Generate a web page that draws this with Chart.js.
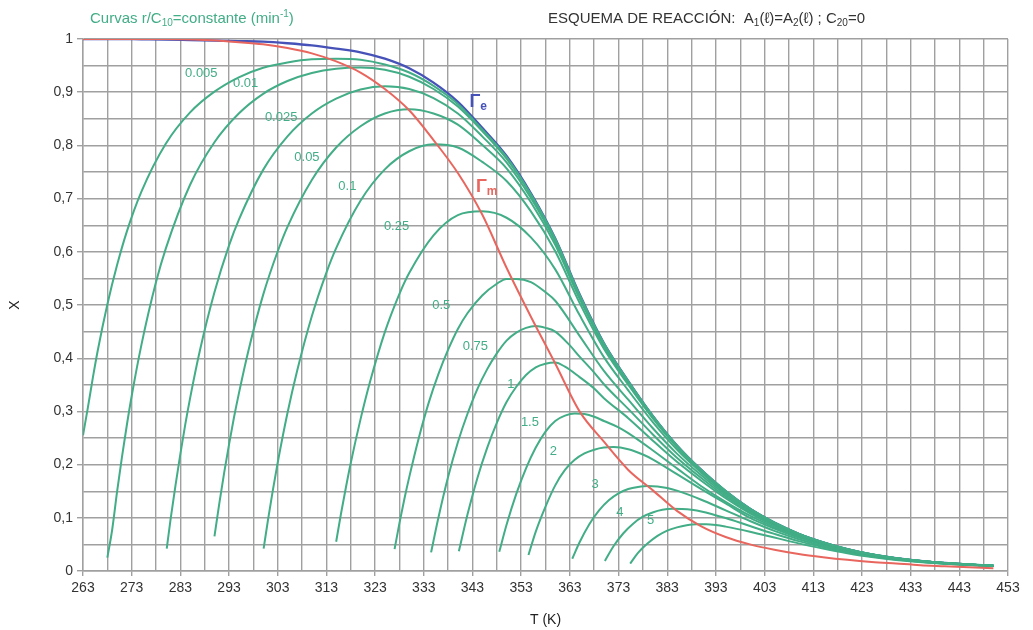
<!DOCTYPE html>
<html>
<head>
<meta charset="utf-8">
<script src="https://cdn.jsdelivr.net/npm/chart.js@4.4.1/dist/chart.umd.min.js"></script>
<style>
  html, body { margin: 0; background: #fff; }
  #wrap { width: 1033px; height: 630px; }
</style>
</head>
<body>
<div id="wrap"><canvas id="chart" width="1033" height="630"></canvas></div>
<script>
// tick labels
const tempLabels = [263, 273, 283, 293, 303, 313, 323, 333, 343, 353, 363, 373, 383, 393, 403, 413, 423, 433, 443, 453];
const convLabels = ['0', '0,1', '0,2', '0,3', '0,4', '0,5', '0,6', '0,7', '0,8', '0,9', '1'];

// equilibrium curve (Γe)
const eqT = [263, 270, 275, 280, 285, 290, 295, 300, 305, 310, 315, 320, 325, 330, 335, 340, 345, 350, 355, 360, 365, 370, 375, 380, 385, 390, 395, 400, 405, 410, 415, 420, 425, 430, 435, 440, 445, 450];
const eqX = [1.000, 1.000, 0.9995, 0.999, 0.998, 0.997, 0.996, 0.995, 0.992, 0.988, 0.982, 0.975, 0.963, 0.945, 0.918, 0.882, 0.833, 0.780, 0.710, 0.625, 0.520, 0.428, 0.357, 0.292, 0.236, 0.190, 0.150, 0.117, 0.091, 0.070, 0.054, 0.041, 0.031, 0.024, 0.019, 0.015, 0.012, 0.010];

// locus of maximum rate (Γm)
const maxT = [263, 280, 288, 295, 300, 305, 310, 315, 320, 325, 330, 335, 340, 345, 350, 355, 360, 365, 370, 375, 380, 385, 390, 395, 400, 405, 410, 415, 420, 425, 430, 435, 440, 445, 450];
const maxX = [1.0, 1.0, 0.998, 0.994, 0.99, 0.983, 0.973, 0.958, 0.937, 0.906, 0.866, 0.81, 0.748, 0.67, 0.57, 0.478, 0.39, 0.3, 0.243, 0.19, 0.152, 0.113, 0.084, 0.064, 0.05, 0.04, 0.032, 0.026, 0.021, 0.017, 0.014, 0.011, 0.009, 0.007, 0.005];

// r/C10 = constant curves
const r0005T = [263, 264, 265, 266, 268, 270, 272, 275, 280, 285, 290, 295, 300, 305, 310, 315, 320, 325, 330, 335, 340, 345, 350, 355, 360, 365, 370, 375, 380, 385, 390, 395, 400, 405, 410, 415, 420, 425, 430, 435, 440, 445, 450];
const r0005X = [0.255, 0.307, 0.362, 0.413, 0.501, 0.575, 0.638, 0.713, 0.803, 0.862, 0.901, 0.928, 0.946, 0.956, 0.962, 0.963, 0.961, 0.952, 0.937, 0.912, 0.878, 0.830, 0.778, 0.708, 0.624, 0.519, 0.4275, 0.3566, 0.2918, 0.2358, 0.1899, 0.1499, 0.1169, 0.0909, 0.0699, 0.0539, 0.0409, 0.0309, 0.0239, 0.0189, 0.0149, 0.0119, 0.0099];

const r001T = [268, 269, 270, 271, 272, 273, 275, 278, 280, 285, 290, 295, 300, 305, 310, 315, 320, 325, 330, 335, 340, 345, 350, 355, 360, 365, 370, 375, 380, 385, 390, 400, 410, 420, 430, 440, 450];
const r001X = [0.025, 0.078, 0.149, 0.214, 0.274, 0.329, 0.425, 0.543, 0.606, 0.726, 0.806, 0.860, 0.897, 0.921, 0.936, 0.944, 0.9465, 0.942, 0.929, 0.906, 0.873, 0.827, 0.775, 0.707, 0.623, 0.518, 0.427, 0.356, 0.2915, 0.2357, 0.1898, 0.1169, 0.0699, 0.041, 0.024, 0.015, 0.01];

const r0025T = [280.2, 281, 282, 283, 284, 285, 287, 290, 293, 295, 300, 305, 310, 315, 320, 325, 330, 335, 340, 345, 350, 355, 360, 365, 370, 375, 380, 385, 390, 395, 400, 410, 420, 430, 440, 450];
const r0025X = [0.042, 0.098, 0.161, 0.22, 0.275, 0.325, 0.414, 0.524, 0.612, 0.66, 0.754, 0.817, 0.86, 0.888, 0.905, 0.911, 0.906, 0.889, 0.86, 0.817, 0.768, 0.701, 0.619, 0.516, 0.425, 0.355, 0.291, 0.235, 0.189, 0.1496, 0.1168, 0.0698, 0.0409, 0.0239, 0.0149, 0.0099];

const r005T = [290, 291, 292, 293, 294, 295, 297, 300, 303, 305, 310, 315, 320, 325, 330, 335, 340, 345, 350, 355, 360, 365, 370, 375, 380, 385, 390, 395, 400, 410, 420, 430, 440, 450];
const r005X = [0.065, 0.127, 0.185, 0.238, 0.288, 0.333, 0.415, 0.519, 0.601, 0.647, 0.735, 0.796, 0.836, 0.860, 0.868, 0.860, 0.839, 0.801, 0.757, 0.693, 0.613, 0.512, 0.423, 0.3535, 0.2897, 0.2344, 0.189, 0.1493, 0.1166, 0.0698, 0.0409, 0.0239, 0.0149, 0.0099];

const r01T = [300.1, 301, 302, 303, 305, 307, 310, 313, 315, 320, 325, 330, 335, 340, 345, 350, 355, 360, 365, 370, 375, 380, 385, 390, 395, 400, 405, 410, 415, 420, 430, 440, 450];
const r01X = [0.042, 0.096, 0.152, 0.204, 0.297, 0.377, 0.479, 0.561, 0.607, 0.696, 0.755, 0.789, 0.802, 0.796, 0.769, 0.733, 0.676, 0.601, 0.504, 0.4176, 0.35, 0.2873, 0.2329, 0.1879, 0.1487, 0.1161, 0.0904, 0.0696, 0.0538, 0.0409, 0.0238, 0.0149, 0.0099];

const r025T = [315, 316, 317, 318, 320, 322, 325, 328, 330, 335, 340, 345, 350, 355, 360, 365, 370, 375, 380, 385, 390, 395, 400, 405, 410, 415, 420, 425, 430, 440, 450];
const r025X = [0.055, 0.108, 0.157, 0.203, 0.285, 0.357, 0.449, 0.521, 0.560, 0.631, 0.669, 0.676, 0.664, 0.627, 0.567, 0.481, 0.402, 0.3395, 0.2804, 0.2283, 0.1849, 0.1467, 0.1148, 0.0896, 0.0691, 0.0534, 0.0406, 0.0308, 0.0238, 0.0149, 0.00996];

const r05T = [327, 328, 329, 330, 332, 334, 336, 338, 340, 342, 345, 348, 350, 352, 355, 358, 360, 365, 370, 375, 380, 385, 390, 395, 400, 405, 410, 415, 420, 425, 430, 440, 450];
const r05X = [0.041, 0.09, 0.135, 0.176, 0.251, 0.316, 0.37, 0.416, 0.455, 0.485, 0.518, 0.540, 0.549, 0.549, 0.543, 0.524, 0.508, 0.442, 0.376, 0.322, 0.2688, 0.2206, 0.1798, 0.1433, 0.1127, 0.0882, 0.0682, 0.0528, 0.0402, 0.0305, 0.0237, 0.0149, 0.0099];

const r075T = [334.5, 336, 338, 340, 342, 344, 346, 348, 350, 352, 354, 356, 358, 360, 363, 365, 368, 370, 375, 380, 385, 390, 395, 400, 405, 410, 415, 420, 425, 430, 440, 450];
const r075X = [0.035, 0.1, 0.177, 0.242, 0.296, 0.342, 0.379, 0.409, 0.433, 0.448, 0.457, 0.4605, 0.457, 0.45, 0.424, 0.403, 0.373, 0.351, 0.3047, 0.2572, 0.2129, 0.1747, 0.14, 0.1105, 0.0868, 0.0673, 0.0522, 0.0399, 0.0303, 0.0235, 0.0148, 0.0099];

const r1T = [340.2, 342, 344, 346, 348, 350, 352, 354, 356, 358, 360, 362, 365, 368, 370, 375, 380, 385, 390, 395, 400, 405, 410, 415, 420, 425, 430, 440, 450];
const r1X = [0.037, 0.107, 0.1745, 0.231, 0.2785, 0.3177, 0.3463, 0.3684, 0.3829, 0.3897, 0.3918, 0.384, 0.3645, 0.3429, 0.3249, 0.2873, 0.2455, 0.2052, 0.1696, 0.1367, 0.1084, 0.0854, 0.0664, 0.0516, 0.0395, 0.03, 0.0234, 0.0147, 0.00985];

const r15T = [348.5, 350, 352, 354, 356, 358, 360, 362, 364, 366, 368, 370, 373, 375, 380, 385, 390, 395, 400, 405, 410, 415, 420, 425, 430, 440, 450];
const r15X = [0.036, 0.087, 0.145, 0.193, 0.232, 0.262, 0.282, 0.292, 0.296, 0.295, 0.29, 0.282, 0.27, 0.259, 0.227, 0.193, 0.1594, 0.130, 0.104, 0.0826, 0.0646, 0.0505, 0.0387, 0.0295, 0.023, 0.0146, 0.0098];

const r2T = [354.5, 356, 358, 360, 362, 364, 366, 368, 370, 372, 375, 378, 380, 385, 390, 395, 400, 405, 410, 415, 420, 425, 430, 440, 450];
const r2X = [0.03, 0.074, 0.121, 0.161, 0.19, 0.209, 0.221, 0.228, 0.232, 0.233, 0.229, 0.219, 0.21, 0.182, 0.154, 0.127, 0.0997, 0.0798, 0.0627, 0.0493, 0.038, 0.0291, 0.0227, 0.0144, 0.0097];

const r3T = [363.5, 365, 367, 369, 371, 373, 375, 377, 379, 381, 383, 385, 390, 395, 400, 405, 410, 415, 420, 425, 430, 440, 450];
const r3X = [0.023, 0.054, 0.088, 0.114, 0.133, 0.146, 0.154, 0.158, 0.16, 0.159, 0.156, 0.151, 0.134, 0.114, 0.094, 0.0755, 0.0598, 0.0472, 0.0367, 0.0282, 0.0222, 0.0141, 0.0096];

const r4T = [370.2, 372, 374, 376, 378, 380, 382, 384, 386, 388, 390, 395, 400, 405, 410, 415, 420, 425, 430, 440, 450];
const r4X = [0.019, 0.047, 0.071, 0.089, 0.102, 0.11, 0.115, 0.117, 0.1165, 0.115, 0.112, 0.0995, 0.0845, 0.0698, 0.0562, 0.045, 0.0351, 0.0272, 0.0215, 0.0138, 0.0094];

const r5T = [375.4, 377, 379, 381, 383, 385, 387, 389, 391, 393, 395, 400, 405, 410, 415, 420, 425, 430, 440, 450];
const r5X = [0.014, 0.034, 0.052, 0.066, 0.076, 0.082, 0.086, 0.088, 0.088, 0.0865, 0.0834, 0.0738, 0.0629, 0.0519, 0.0422, 0.0334, 0.0261, 0.0208, 0.0135, 0.0093];

// curve annotations
const rateNames = ['0.005', '0.01', '0.025', '0.05', '0.1', '0.25', '0.5', '0.75', '1', '1.5', '2', '3', '4', '5'];
const rateNameT = [287.3, 296.4, 303.7, 309, 317.3, 327.4, 336.6, 343.6, 350.9, 354.8, 359.6, 368.2, 373.3, 379.6];
const rateNameX = [0.936, 0.917, 0.853, 0.778, 0.722, 0.647, 0.5, 0.423, 0.35, 0.279, 0.224, 0.162, 0.11, 0.096];

const GREEN = '#42ad86';
const RED = '#e8665e';
const BLUE = '#4652b8';
const GRID = '#a0a0a0';
const FONT = '"Liberation Sans", Arial, sans-serif';

const rateCurves = [
  [r0005T, r0005X], [r001T, r001X], [r0025T, r0025X], [r005T, r005X], [r01T, r01X],
  [r025T, r025X], [r05T, r05X], [r075T, r075X], [r1T, r1X], [r15T, r15X],
  [r2T, r2X], [r3T, r3X], [r4T, r4X], [r5T, r5X]
];

function toPoints(T, X) {
  return T.map((t, i) => ({ x: t, y: X[i] }));
}

const lineStyle = {
  borderWidth: 2,
  pointRadius: 0,
  fill: false,
  cubicInterpolationMode: 'monotone'
};

const datasets = [
  Object.assign({ label: 'Γm', data: toPoints(maxT, maxX), borderColor: RED, order: 0 }, lineStyle)
];
rateCurves.forEach((c, i) => {
  datasets.push(Object.assign({ label: rateNames[i], data: toPoints(c[0], c[1]), borderColor: GREEN, order: 1 }, lineStyle));
});
datasets.push(Object.assign({ label: 'Γe', data: toPoints(eqT, eqX), borderColor: BLUE, order: 2 }, lineStyle, { borderWidth: 2.4 }));

// gridlines every 5 K between the labelled temperatures
const gridT = [];
tempLabels.forEach((t, i) => {
  gridT.push(t);
  if (i < tempLabels.length - 1) gridT.push(t + 5);
});

function isTenth(v) {
  return Math.abs(v * 10 - Math.round(v * 10)) < 1e-6;
}

// draws a run of text pieces with sub/superscripts
function drawRuns(ctx, x, y, runs, weight) {
  runs.forEach(r => {
    ctx.font = (weight || '') + ' ' + r.size + 'px ' + FONT;
    ctx.fillText(r.t, x, y + (r.dy || 0));
    x += ctx.measureText(r.t).width;
  });
}

const annotations = {
  id: 'annotations',
  afterDatasetsDraw(chart) {
    const { ctx } = chart;
    const xs = chart.scales.x, ys = chart.scales.y;
    ctx.save();

    ctx.fillStyle = GREEN;
    ctx.font = '13px ' + FONT;
    ctx.textAlign = 'center';
    ctx.textBaseline = 'middle';
    rateNames.forEach((n, i) => {
      ctx.fillText(n, xs.getPixelForValue(rateNameT[i]), ys.getPixelForValue(rateNameX[i]));
    });

    ctx.textAlign = 'left';
    ctx.textBaseline = 'alphabetic';
    ctx.fillStyle = BLUE;
    drawRuns(ctx, xs.getPixelForValue(342.4), ys.getPixelForValue(0.872), [
      { t: 'Γ', size: 18 }, { t: 'e', size: 12, dy: 3 }
    ], 'bold');
    ctx.fillStyle = RED;
    drawRuns(ctx, xs.getPixelForValue(343.7), ys.getPixelForValue(0.712), [
      { t: 'Γ', size: 18 }, { t: 'm', size: 12, dy: 3 }
    ], 'bold');

    ctx.fillStyle = GREEN;
    drawRuns(ctx, 90, 23, [
      { t: 'Curvas r/C', size: 15 }, { t: '10', size: 10, dy: 3 },
      { t: '=constante (min', size: 15 }, { t: '-1', size: 10, dy: -6 }, { t: ')', size: 15 }
    ]);
    ctx.fillStyle = '#333';
    drawRuns(ctx, 548, 23, [
      { t: 'ESQUEMA DE REACCIÓN:  A', size: 15 }, { t: '1', size: 10, dy: 3 },
      { t: '(ℓ)=A', size: 15 }, { t: '2', size: 10, dy: 3 },
      { t: '(ℓ) ; C', size: 15 }, { t: '20', size: 10, dy: 3 }, { t: '=0', size: 15 }
    ]);
    ctx.restore();
  }
};

new Chart(document.getElementById('chart'), {
  type: 'line',
  data: { datasets: datasets },
  options: {
    responsive: false,
    animation: false,
    layout: { padding: { left: 0, right: 25, top: 39, bottom: 0 } },
    plugins: { legend: { display: false }, tooltip: { enabled: false } },
    scales: {
      x: {
        type: 'linear',
        min: 263,
        max: 453,
        afterBuildTicks: s => { s.ticks = gridT.map(v => ({ value: v })); },
        afterFit: s => { s.height = 59; },
        ticks: {
          autoSkip: false,
          maxRotation: 0,
          padding: 4,
          color: '#333',
          font: { family: FONT, size: 14 },
          callback: v => tempLabels.includes(v) ? String(v) : ''
        },
        grid: {
          color: GRID,
          lineWidth: 1.4,
          tickLength: 5,
          tickColor: c => tempLabels.includes(c.tick.value) ? GRID : 'rgba(0,0,0,0)'
        },
        border: { color: GRID, width: 1.4 },
        title: {
          display: true,
          text: 'T (K)',
          color: '#222',
          font: { family: FONT, size: 14 },
          padding: { top: 0, bottom: 1 }
        }
      },
      y: {
        min: 0,
        max: 1,
        afterFit: s => { s.width = 83; },
        ticks: {
          stepSize: 0.05,
          autoSkip: false,
          padding: 4,
          color: '#333',
          font: { family: FONT, size: 14 },
          callback: v => isTenth(v) ? convLabels[Math.round(v * 10)] : ''
        },
        grid: {
          color: GRID,
          lineWidth: 1.4,
          tickLength: 6,
          tickColor: c => isTenth(c.tick.value) ? GRID : 'rgba(0,0,0,0)'
        },
        border: { color: GRID, width: 1.4 },
        title: {
          display: true,
          text: 'X',
          color: '#222',
          font: { family: FONT, size: 14 },
          padding: { top: 7 }
        }
      }
    }
  },
  plugins: [annotations]
});
</script>
</body>
</html>
